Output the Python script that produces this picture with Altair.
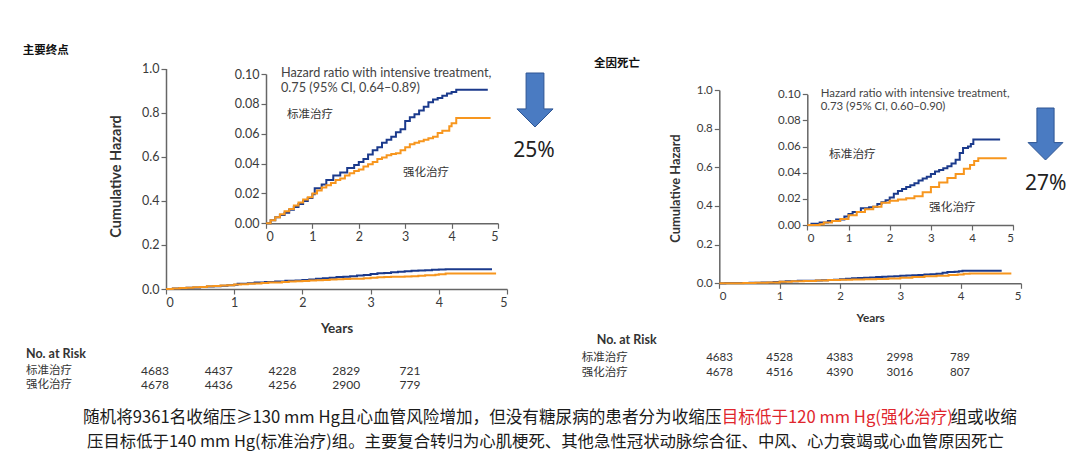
import altair as alt
import pandas as pd

STD = "标准治疗"
INT = "强化治疗"

# ---------------- data ----------------
# Panel 1: primary outcome (主要终点)
p1_std_t = [0, 0.1, 0.2, 0.3, 0.4, 0.5, 0.6, 0.7, 0.8, 0.9, 1.0, 1.05, 1.2, 1.3, 1.45, 1.6, 1.75, 1.9, 2.0,
            2.1, 2.2, 2.3, 2.4, 2.5, 2.6, 2.7, 2.8, 2.9, 3.0, 3.1, 3.2, 3.3, 3.4, 3.5, 3.6, 3.7, 3.8,
            3.9, 4.0, 4.1, 4.78]
p1_std_h = [0, 0.002, 0.004, 0.0055, 0.007, 0.009, 0.011, 0.013, 0.015, 0.017, 0.0195, 0.0235, 0.026,
            0.029, 0.032, 0.034, 0.037, 0.039, 0.041, 0.043, 0.046, 0.049, 0.051, 0.054, 0.056, 0.058,
            0.061, 0.063, 0.0685, 0.071, 0.073, 0.0755, 0.078, 0.081, 0.083, 0.084, 0.0855, 0.087,
            0.088, 0.0895, 0.0895]
p1_int_t = [0, 0.1, 0.2, 0.3, 0.4, 0.5, 0.6, 0.7, 0.8, 0.9, 1.0, 1.1, 1.2, 1.3, 1.4, 1.5, 1.6, 1.7, 1.8,
            1.9, 2.0, 2.1, 2.2, 2.3, 2.4, 2.5, 2.6, 2.7, 2.8, 2.9, 3.0, 3.1, 3.2, 3.3, 3.4, 3.5, 3.6,
            3.7, 3.8, 3.9, 3.95, 4.0, 4.1, 4.84]
p1_int_h = [0, 0.002, 0.004, 0.006, 0.008, 0.0095, 0.012, 0.014, 0.016, 0.0175, 0.020, 0.022, 0.024,
            0.0255, 0.027, 0.029, 0.030, 0.032, 0.0335, 0.035, 0.036, 0.038, 0.0395, 0.041, 0.043,
            0.044, 0.0455, 0.0465, 0.047, 0.049, 0.051, 0.053, 0.054, 0.055, 0.056, 0.057, 0.058,
            0.0605, 0.062, 0.062, 0.065, 0.067, 0.0705, 0.0705]

# Panel 2: all-cause death (全因死亡)
p2_std_t = [0, 0.1, 0.3, 0.5, 0.7, 0.9, 1.0, 1.1, 1.3, 1.5, 1.6, 1.7, 1.8, 1.9, 2.0, 2.1, 2.2, 2.3,
            2.4, 2.5, 2.6, 2.7, 2.8, 2.9, 3.0, 3.1, 3.2, 3.3, 3.4, 3.5, 3.6, 3.7, 3.78, 3.9, 3.97,
            4.03, 4.68]
p2_std_h = [0, 0.001, 0.002, 0.003, 0.0043, 0.0065, 0.0084, 0.010, 0.0128, 0.0135, 0.014, 0.016,
            0.0175, 0.019, 0.021, 0.024, 0.026, 0.0275, 0.029, 0.0305, 0.032, 0.034, 0.0355, 0.037,
            0.039, 0.041, 0.042, 0.0435, 0.045, 0.047, 0.050, 0.055, 0.059, 0.060, 0.062, 0.0655,
            0.0655]
p2_int_t = [0, 0.3, 0.4, 0.6, 0.8, 1.0, 1.2, 1.4, 1.6, 1.8, 2.0, 2.2, 2.4, 2.6, 2.8, 3.0, 3.2, 3.4,
            3.6, 3.8, 3.95, 4.05, 4.15, 4.84]
p2_int_h = [0, 0.0005, 0.002, 0.003, 0.0045, 0.0075, 0.010, 0.012, 0.014, 0.017, 0.0185, 0.0195,
            0.0205, 0.022, 0.025, 0.029, 0.0325, 0.036, 0.039, 0.043, 0.046, 0.049, 0.051, 0.051]

risk_years = [0, 1, 2, 3, 4]
p1_risk_std = [4683, 4437, 4228, 2829, 721]
p1_risk_int = [4678, 4436, 4256, 2900, 779]
p2_risk_std = [4683, 4528, 4383, 2998, 789]
p2_risk_int = [4678, 4516, 4390, 3016, 807]

x_ticks = [0, 1, 2, 3, 4, 5]
main_y_ticks = [0, 0.2, 0.4, 0.6, 0.8, 1.0]
inset_y_ticks = [0, 0.02, 0.04, 0.06, 0.08, 0.10]

panel_titles = ["主要终点", "全因死亡"]
hr_text_1 = ["Hazard ratio with intensive treatment,", "0.75 (95% CI, 0.64\u20130.89)"]
hr_text_2 = ["Hazard ratio with intensive treatment,", "0.73 (95% CI, 0.60\u20130.90)"]
reductions = ["25%", "27%"]
risk_header = "No. at Risk"
caption_line1 = ["随机将9361名收缩压≥130 mm Hg且心血管风险增加，但没有糖尿病的患者分为收缩压",
                 "目标低于120 mm Hg(强化治疗)",
                 "组或收缩"]
caption_line2 = "压目标低于140 mm Hg(标准治疗)组。主要复合转归为心肌梗死、其他急性冠状动脉综合征、中风、心力衰竭或心血管原因死亡"

# ---------------- layout / style ----------------
W, H = 1064, 444
FONT = "Lato"
CJK = "Noto Sans CJK SC"
BLUE = "#1B3A8C"
ORANGE = "#F7961E"
ARROW = "M -0.33 -1 L 0.33 -1 L 0.33 0.33 L 0.67 0.33 L 0 1 L -0.67 0.33 L -0.33 0.33 Z"

color_scale = alt.Scale(domain=[STD, INT], range=[BLUE, ORANGE])
dummy = pd.DataFrame({"a": [1]})


def curves(df_std_t, df_std_h, df_int_t, df_int_h):
    return pd.DataFrame({
        "t": list(df_std_t) + list(df_int_t),
        "h": list(df_std_h) + list(df_int_h),
        "g": [STD] * len(df_std_t) + [INT] * len(df_int_t),
    })


def km_layer(df, xr, yr, ydom, yticks, yfmt, lab_size=12, xtitle=None, ytitle=None,
             title_size=13, xtitle_y=0, ytitle_x=0, ytitle_y=0, width=2):
    x_axis = dict(orient="bottom", offset=yr[0] - H, values=x_ticks, format="d",
                  labelFontSize=lab_size, title=xtitle if xtitle else None)
    if xtitle:
        x_axis.update(titleY=xtitle_y, titleBaseline="middle", titleFontSize=title_size,
                      titleFontWeight="bold", titleColor="#333")
    y_axis = dict(orient="left", offset=-xr[0], values=yticks, format=yfmt,
                  labelFontSize=lab_size, title=ytitle if ytitle else None)
    if ytitle:
        y_axis.update(titleX=ytitle_x, titleY=ytitle_y, titleBaseline="middle", titleAngle=270,
                      titleFontSize=title_size + 1, titleFontWeight="bold", titleColor="#333")
    return alt.Chart(df).mark_line(interpolate="step-after", strokeWidth=width).encode(
        x=alt.X("t:Q", scale=alt.Scale(domain=[0, 5], range=list(xr), nice=False),
                axis=alt.Axis(**x_axis)),
        y=alt.Y("h:Q", scale=alt.Scale(domain=ydom, range=list(yr), nice=False, zero=True),
                axis=alt.Axis(**y_axis)),
        color=alt.Color("g:N", scale=color_scale, legend=None),
        detail="g:N",
    )


def label(text, x, y, size, color="#222", weight="normal", font=FONT, align="left"):
    return alt.Chart(dummy).mark_text(
        text=text, align=align, baseline="middle", fontSize=size, font=font,
        fontWeight=weight, color=color,
    ).encode(x=alt.value(x), y=alt.value(y))


def arrow(x, y, size):
    return alt.Chart(dummy).mark_point(
        shape=ARROW, size=size, filled=True, fill="#4A7BC2", stroke="#2E5593",
        strokeWidth=1, opacity=1,
    ).encode(x=alt.value(x), y=alt.value(y))


def risk_row(counts, xr, y, size=11.5):
    df = pd.DataFrame({"year": risk_years, "n": counts})
    return alt.Chart(df).mark_text(
        fontSize=size, font=FONT, color="#333", align="center", baseline="middle"
    ).encode(
        x=alt.X("year:Q", scale=alt.Scale(domain=[0, 4], range=list(xr), nice=False), axis=None),
        y=alt.value(y),
        text=alt.Text("n:Q", format="d"),
    )


d1 = curves(p1_std_t, p1_std_h, p1_int_t, p1_int_h)
d2 = curves(p2_std_t, p2_std_h, p2_int_t, p2_int_h)

CAP = 16.6

layers = [
    # panel 1
    km_layer(d1, (158, 499), (281, 60.5), [0, 1], main_y_ticks, ".1f", lab_size=12.5,
             xtitle="Years", ytitle="Cumulative Hazard", title_size=13.5,
             xtitle_y=39, ytitle_x=-50, ytitle_y=168),
    km_layer(d1, (258, 490), (215.3, 66), [0, 0.1], inset_y_ticks, ".2f", lab_size=12.5),
    # panel 2
    km_layer(d2, (711.3, 1013), (275.3, 82), [0, 1], main_y_ticks, ".1f", lab_size=11.5,
             xtitle="Years", ytitle="Cumulative Hazard", title_size=11.8,
             xtitle_y=34.5, ytitle_x=-44, ytitle_y=180),
    km_layer(d2, (799.3, 1005.3), (217, 86.3), [0, 0.1], inset_y_ticks, ".2f", lab_size=11.5),
    # titles
    label(panel_titles[0], 14.7, 42.7, 11.5, color="#111", weight="bold", font=CJK),
    label(panel_titles[1], 586, 56, 11.5, color="#111", weight="bold", font=CJK),
    # hazard ratio notes
    label(hr_text_1[0], 273, 65.3, 12.7, color="#444"),
    label(hr_text_1[1], 273, 80.3, 12.7, color="#444"),
    label(hr_text_2[0], 812.7, 86.3, 11.4, color="#444"),
    label(hr_text_2[1], 812.7, 99.3, 11.4, color="#444"),
    # curve labels
    label(STD, 279, 107, 11.5, color="#333", font=CJK),
    label(INT, 395, 165, 11.5, color="#333", font=CJK),
    label(STD, 821, 146, 11.7, color="#333", font=CJK),
    label(INT, 921, 198.7, 11.7, color="#333", font=CJK),
    # arrows and reductions
    arrow(527, 92, 2916),
    arrow(1037.5, 126, 2704),
    label(reductions[0], 526, 142.7, 21, color="#222", font="Noto Sans", align="center"),
    label(reductions[1], 1037.8, 176.3, 21, color="#222", font="Noto Sans", align="center"),
    # risk tables
    label(risk_header, 18, 346, 12.5, color="#333", weight="bold"),
    label(STD, 18, 362.7, 11.5, color="#333", font=CJK),
    label(INT, 18, 377, 11.5, color="#333", font=CJK),
    risk_row(p1_risk_std, (147, 402), 362.7, 12),
    risk_row(p1_risk_int, (147, 402), 377, 12),
    label(risk_header, 588.7, 332, 12.5, color="#333", weight="bold"),
    label(STD, 573.7, 349.7, 11.5, color="#333", font=CJK),
    label(INT, 573.7, 365.3, 11.5, color="#333", font=CJK),
    risk_row(p2_risk_std, (711.5, 952), 349.7),
    risk_row(p2_risk_int, (711.5, 952), 365.3),
    # caption
    label(caption_line1[0], 713.5, 410.3, CAP, color="#1a1a1a", font=CJK, align="right"),
    label(caption_line1[1], 713.7, 410.3, CAP, color="#E0262D", font=CJK),
    label(caption_line1[2], 942.5, 410.3, CAP, color="#1a1a1a", font=CJK),
    label(caption_line2, 79, 433.7, 16.4, color="#1a1a1a", font=CJK),
]

chart = alt.layer(*layers).resolve_scale(
    x="independent", y="independent"
).resolve_axis(
    x="independent", y="independent"
).properties(
    width=W, height=H, autosize=alt.AutoSizeParams(type="none"), padding=0,
).configure_view(stroke=None).configure_axis(
    grid=False, domainColor="#666", domainWidth=1.5, tickColor="#666", tickWidth=1.2,
    tickSize=5, labelPadding=2, labelFont=FONT, labelColor="#3a3a3a",
    titleFont=FONT,
)

chart.save("out.html", embed_options={"renderer": "svg", "actions": False})
